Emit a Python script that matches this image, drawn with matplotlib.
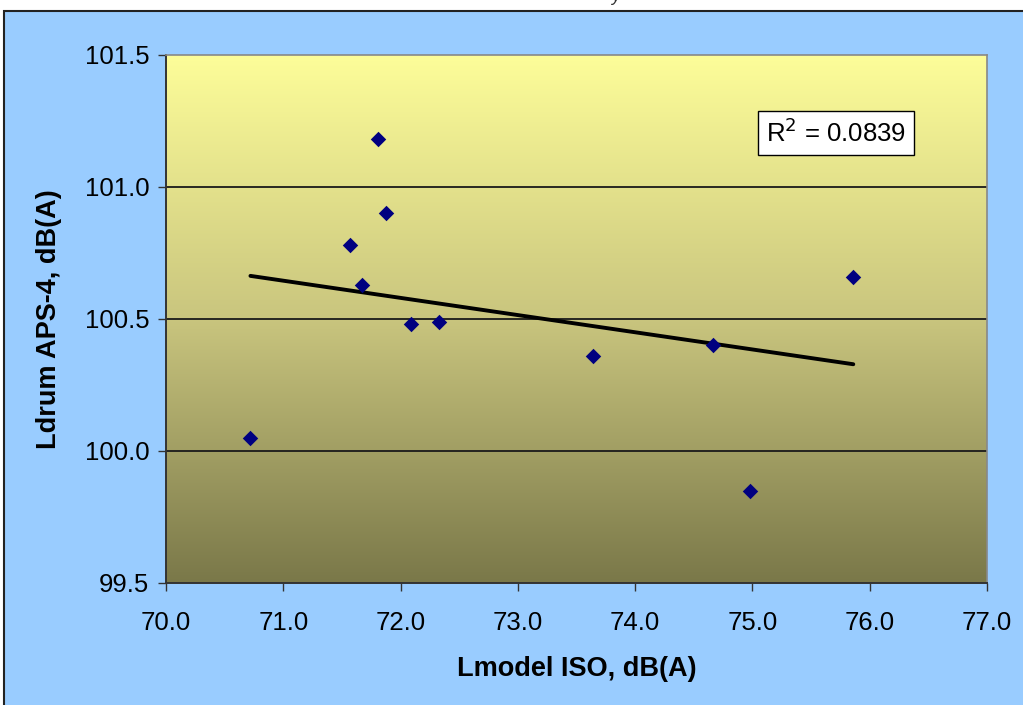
import numpy as np
import matplotlib
matplotlib.use("Agg")
import matplotlib.pyplot as plt
from matplotlib.patches import Rectangle
from matplotlib.colors import LinearSegmentedColormap

plt.rcParams['font.family'] = ['Liberation Sans', 'DejaVu Sans']

# Measured levels, dB(A)
lmodel_iso = [70.72, 71.57, 71.67, 71.81, 71.88, 72.09, 72.33, 73.64, 74.66, 74.98, 75.86]
ldrum_aps4 = [100.05, 100.78, 100.63, 101.18, 100.90, 100.48, 100.49, 100.36, 100.40, 99.85, 100.66]
r_squared_label = "R$^2$ = 0.0839"

x_ticks = [70.0, 71.0, 72.0, 73.0, 74.0, 75.0, 76.0, 77.0]
y_ticks = [99.5, 100.0, 100.5, 101.0, 101.5]

fig = plt.figure(figsize=(10.23, 7.05), dpi=100, facecolor='white')

# Chart area background with dark border
fig.patches.append(Rectangle((4 / 1023, -0.01), 1.02, 1 - 11 / 705 + 0.01,
                             transform=fig.transFigure, facecolor='#99CCFF',
                             edgecolor='#222222', linewidth=1.5, zorder=-5))

# Descender of a caption line above the chart
fig.text(0.602, 0.993, "y", fontsize=13, style='italic', ha='center', va='bottom', color='#333333')

ax = fig.add_axes([166 / 1023, 1 - 583 / 705, (987 - 166) / 1023, (583 - 55) / 705])
ax.set_zorder(2)
ax.set_xlim(70.0, 77.0)
ax.set_ylim(99.5, 101.5)

# Vertical gradient fill of the plot area
cmap = LinearSegmentedColormap.from_list('plotfill', ['#7a7849', '#c9c57e', '#fdfd99'])
grad = np.linspace(0, 1, 256).reshape(-1, 1)
ax.imshow(grad, cmap=cmap, aspect='auto', origin='lower',
          extent=[0, 1, 0, 1], transform=ax.transAxes, zorder=0, interpolation='bicubic')

for yv in y_ticks[1:-1]:
    ax.axhline(yv, color='#1a1a1a', linewidth=1.3, zorder=1)

ax.scatter(lmodel_iso, ldrum_aps4, marker='D', s=62, color='#000080', zorder=3, linewidths=0)

# Linear trend line over the data range
coef = np.polyfit(lmodel_iso, ldrum_aps4, 1)
xs = np.array([min(lmodel_iso), max(lmodel_iso)])
ax.plot(xs, np.polyval(coef, xs), color='black', linewidth=2.8, solid_capstyle='round', zorder=2)

ax.text(0.816, 0.852, r_squared_label, transform=ax.transAxes, fontsize=18.5,
        ha='center', va='center', zorder=4,
        bbox=dict(boxstyle='square,pad=0.3', facecolor='white', edgecolor='black', linewidth=1))

ax.set_xticks(x_ticks)
ax.set_yticks(y_ticks)
ax.set_xticklabels([f"{v:.1f}" for v in x_ticks])
ax.set_yticklabels([f"{v:.1f}" for v in y_ticks])
ax.tick_params(axis='both', direction='out', length=6, width=1, labelsize=18.5, color='#333333')
ax.tick_params(axis='x', pad=14)
ax.tick_params(axis='y', pad=6)

for side in ('top', 'right'):
    ax.spines[side].set_color('#888888')
    ax.spines[side].set_linewidth(1.2)
for side in ('left', 'bottom'):
    ax.spines[side].set_color('#333333')
    ax.spines[side].set_linewidth(1.4)

ax.set_xlabel("Lmodel ISO, dB(A)", fontsize=19.5, fontweight='bold', labelpad=15)
ax.set_ylabel("Ldrum APS-4, dB(A)", fontsize=19.5, fontweight='bold', labelpad=16)

fig.savefig("out.png", dpi=100)
